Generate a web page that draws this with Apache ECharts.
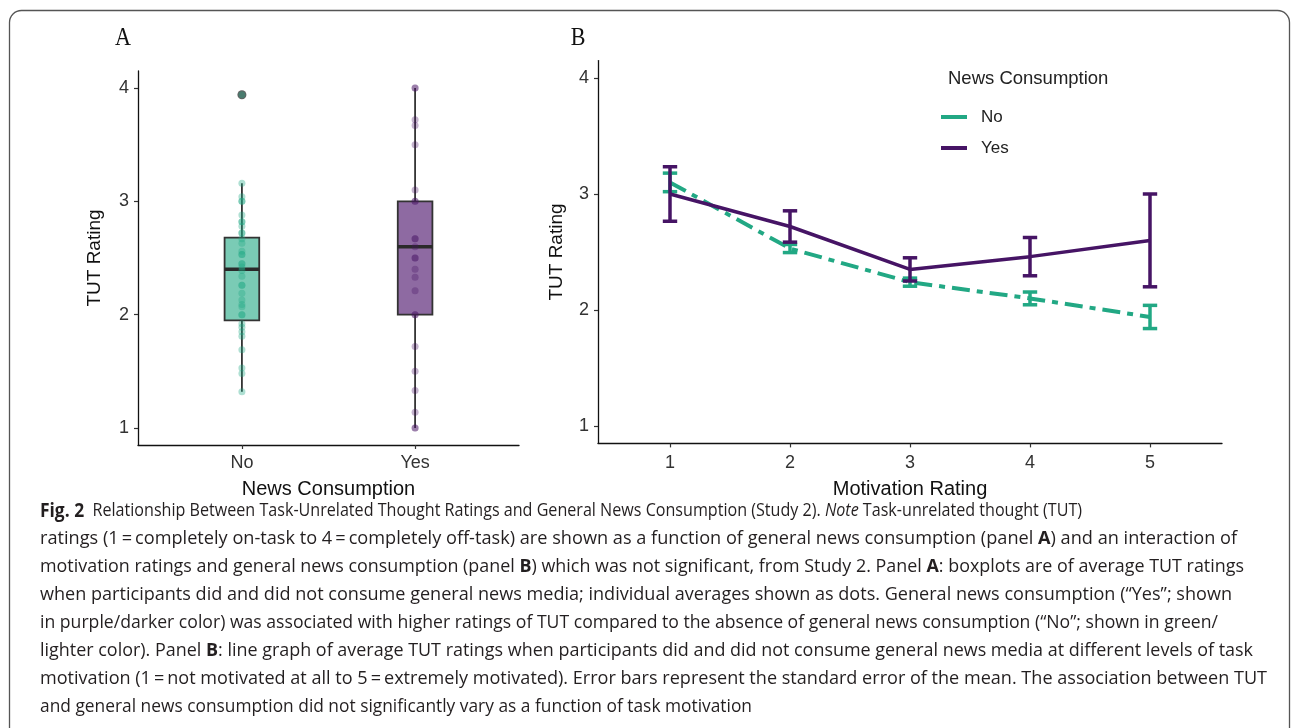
<!DOCTYPE html>
<html>
<head>
<meta charset="utf-8">
<script src="https://cdn.jsdelivr.net/npm/echarts@6/dist/echarts.min.js"></script>
<style>
html,body{margin:0;padding:0;background:#fff;}
#chart{width:1293px;height:728px;}
</style>
</head>
<body>
<div id="chart"></div>
<script>
// ---------- data ----------
const newsCategories = ['No', 'Yes'];
const boxNo = [1.32, 1.95, 2.40, 2.68, 3.16];   // min, q1, median, q3, max
const boxYes = [1.00, 2.00, 2.60, 3.00, 4.00];
const outliersNo = [3.94];
const pointsNo = [3.94, 3.16, 3.04, 3.00, 3.00, 2.88, 2.82, 2.82, 2.78, 2.72, 2.72, 2.67, 2.63, 2.56, 2.53, 2.53,
  2.45, 2.45, 2.42, 2.39, 2.34, 2.26, 2.26, 2.19, 2.13, 2.09, 2.07, 2.00, 2.00, 1.92, 1.89, 1.85, 1.81,
  1.69, 1.53, 1.48, 1.32];
const pointsYes = [4.00, 4.00, 3.72, 3.67, 3.50, 3.10, 3.00, 3.00, 2.67, 2.67, 2.60, 2.50, 2.50, 2.40,
  2.33, 2.21, 2.00, 2.00, 1.72, 1.50, 1.33, 1.14, 1.00, 1.00];
const motivationLevels = [1, 2, 3, 4, 5];
const meanNo = [3.10, 2.53, 2.24, 2.10, 1.94];
const seNo = [0.08, 0.035, 0.035, 0.055, 0.10];
const meanYes = [3.00, 2.72, 2.35, 2.46, 2.60];
const seYes = [0.235, 0.135, 0.10, 0.165, 0.40];
const yTicks = [1, 2, 3, 4];
const captionLines = [
  [['f', 'Fig. 2'], ['n', '  Relationship Between Task-Unrelated Thought Ratings and General News Consumption (Study 2). '], ['i', 'Note'], ['n', ' Task-unrelated thought (TUT)']],
  [['n', 'ratings (1\u2009=\u2009completely on-task to 4\u2009=\u2009completely off-task) are shown as a function of general news consumption (panel '], ['b', 'A'], ['n', ') and an interaction of']],
  [['n', 'motivation ratings and general news consumption (panel '], ['b', 'B'], ['n', ') which was not significant, from Study 2. Panel '], ['b', 'A'], ['n', ': boxplots are of average TUT ratings']],
  [['n', 'when participants did and did not consume general news media; individual averages shown as dots. General news consumption (\u201cYes\u201d; shown']],
  [['n', 'in purple/darker color) was associated with higher ratings of TUT compared to the absence of general news consumption (\u201cNo\u201d; shown in green/']],
  [['n', 'lighter color). Panel '], ['b', 'B'], ['n', ': line graph of average TUT ratings when participants did and did not consume general news media at different levels of task']],
  [['n', 'motivation (1\u2009=\u2009not motivated at all to 5\u2009=\u2009extremely motivated). Error bars represent the standard error of the mean. The association between TUT']],
  [['n', 'and general news consumption did not significantly vary as a function of task motivation']]
];
const captionRightEdges = [1082, 1237, 1244, 1232, 1218, 1253, 1267, 752];

// ---------- styles ----------
const GREEN = '#22a884';
const PURPLE = '#461465';
const FONT = 'Liberation Sans, Arial, sans-serif';
const CAP_FONT = 'Open Sans, Noto Sans, sans-serif';
const CAP_COLOR = '#231f20';

const chart = echarts.init(document.getElementById('chart'), null, {renderer: 'canvas'});

// caption measurement for fitting line widths
const mctx = document.createElement('canvas').getContext('2d');
const capSize = 18.5;
const segFont = {
  n: `normal ${capSize}px ${CAP_FONT}`,
  b: `bold ${capSize}px ${CAP_FONT}`,
  i: `italic ${capSize}px ${CAP_FONT}`,
  f: `bold 20px ${CAP_FONT}`
};
const richStyles = {
  n: {fontFamily: CAP_FONT, fontSize: capSize, fontWeight: 'normal', fill: CAP_COLOR},
  b: {fontFamily: CAP_FONT, fontSize: capSize, fontWeight: 'bold', fill: CAP_COLOR},
  i: {fontFamily: CAP_FONT, fontSize: capSize, fontStyle: 'italic', fill: CAP_COLOR},
  f: {fontFamily: CAP_FONT, fontSize: 20, fontWeight: 'bold', fill: CAP_COLOR}
};
const captionGraphics = captionLines.map((segs, idx) => {
  let total = 0;
  segs.forEach(s => { mctx.font = segFont[s[0]]; total += mctx.measureText(s[1]).width; });
  const target = captionRightEdges[idx] - 40;
  const sx = target / total;
  return {
    type: 'text', x: 40, y: 511 + idx * 28, scaleX: sx,
    style: {
      text: segs.map(s => `{${s[0]}|${s[1]}}`).join(''),
      verticalAlign: 'middle',
      fill: CAP_COLOR,
      rich: richStyles
    }
  };
});

const axisCommon = {
  axisLine: {show: true, lineStyle: {color: '#111', width: 1.3}},
  axisTick: {show: true, length: 4, lineStyle: {color: '#333', width: 1.2}},
  splitLine: {show: false},
  nameTextStyle: {fontSize: 20, color: '#111', fontFamily: FONT}
};

function boxRender(color) {
  return function (params, api) {
    const x = api.value(0);
    const mn = api.value(1), q1 = api.value(2), md = api.value(3), q3 = api.value(4), mx = api.value(5);
    const pMin = api.coord([x, mn]), pQ1 = api.coord([x, q1]), pMd = api.coord([x, md]);
    const pQ3 = api.coord([x, q3]), pMax = api.coord([x, mx]);
    const hw = api.coord([x + 0.1, md])[0] - pMd[0];
    const st = {stroke: '#333', lineWidth: 1.8};
    return {
      type: 'group', children: [
        {type: 'line', shape: {x1: pMin[0], y1: pMin[1], x2: pQ1[0], y2: pQ1[1]}, style: st},
        {type: 'line', shape: {x1: pQ3[0], y1: pQ3[1], x2: pMax[0], y2: pMax[1]}, style: st},
        {type: 'rect', shape: {x: pMd[0] - hw, y: pQ3[1], width: 2 * hw, height: pQ1[1] - pQ3[1]},
          style: {fill: color, stroke: '#333', lineWidth: 1.8}},
        {type: 'line', shape: {x1: pMd[0] - hw, y1: pMd[1], x2: pMd[0] + hw, y2: pMd[1]},
          style: {stroke: '#2a2a2a', lineWidth: 3.5}}
      ]
    };
  };
}

function errRender(color) {
  return function (params, api) {
    const x = api.value(0), lo = api.value(1), hi = api.value(2);
    const pLo = api.coord([x, lo]), pHi = api.coord([x, hi]);
    const hw = api.coord([x + 0.06, lo])[0] - pLo[0];
    const st = {stroke: color, lineWidth: 3.5};
    return {
      type: 'group', children: [
        {type: 'line', shape: {x1: pLo[0], y1: pLo[1], x2: pHi[0], y2: pHi[1]}, style: st},
        {type: 'line', shape: {x1: pLo[0] - hw, y1: pLo[1], x2: pLo[0] + hw, y2: pLo[1]}, style: st},
        {type: 'line', shape: {x1: pHi[0] - hw, y1: pHi[1], x2: pHi[0] + hw, y2: pHi[1]}, style: st}
      ]
    };
  };
}

const option = {
  animation: false,
  backgroundColor: '#fff',
  grid: [
    {left: 138, top: 71, width: 381, height: 374},
    {left: 598, top: 60.6, width: 624, height: 382.8}
  ],
  xAxis: [
    Object.assign({}, axisCommon, {
      gridIndex: 0, type: 'value', min: 0.4, max: 2.6,
      name: 'News Consumption', nameLocation: 'middle', nameGap: 34,
      axisTick: {show: true, length: 4, lineStyle: {color: '#333', width: 1.2}, customValues: [1, 2]},
      axisLabel: {customValues: [1, 2], formatter: v => newsCategories[Math.round(v) - 1],
        fontSize: 18, color: '#333', fontFamily: FONT, margin: 9}
    }),
    Object.assign({}, axisCommon, {
      gridIndex: 1, type: 'value', min: 0.4, max: 5.6,
      name: 'Motivation Rating', nameLocation: 'middle', nameGap: 36,
      axisTick: {show: true, length: 4, lineStyle: {color: '#333', width: 1.2}, customValues: motivationLevels},
      axisLabel: {customValues: motivationLevels, fontSize: 18, color: '#333', fontFamily: FONT, margin: 11}
    })
  ],
  yAxis: [
    Object.assign({}, axisCommon, {
      gridIndex: 0, type: 'value', min: 0.85, max: 4.15,
      name: 'TUT Rating', nameLocation: 'middle', nameGap: 34,
      nameTextStyle: {fontSize: 19, color: '#111', fontFamily: FONT},
      axisTick: {show: true, length: 4, lineStyle: {color: '#333', width: 1.2}, customValues: yTicks},
      axisLabel: {customValues: yTicks, fontSize: 18, color: '#333', fontFamily: FONT, margin: 9}
    }),
    Object.assign({}, axisCommon, {
      gridIndex: 1, type: 'value', min: 0.85, max: 4.15,
      name: 'TUT Rating', nameLocation: 'middle', nameGap: 32,
      nameTextStyle: {fontSize: 19, color: '#111', fontFamily: FONT},
      axisTick: {show: true, length: 4, lineStyle: {color: '#333', width: 1.2}, customValues: yTicks},
      axisLabel: {customValues: yTicks, fontSize: 18, color: '#333', fontFamily: FONT, margin: 9}
    })
  ],
  legend: {
    data: ['No', 'Yes'],
    orient: 'vertical', left: 941, top: 107.5, padding: 0,
    icon: 'rect', itemWidth: 26, itemHeight: 4, itemGap: 12,
    itemStyle: {borderWidth: 0},
    textStyle: {fontSize: 17, color: '#222', fontFamily: FONT, lineHeight: 19, padding: [0, 0, 0, 9]},
    selectedMode: false
  },
  graphic: [
    {type: 'rect', shape: {x: 9.5, y: 10.5, width: 1280, height: 735, r: 12},
      style: {fill: 'none', stroke: '#555', lineWidth: 1.3}, silent: true},
    {type: 'text', x: 123, y: 38, scaleX: 0.85,
      style: {text: 'A', fontFamily: 'Liberation Serif, serif', fontSize: 26, fill: '#111', align: 'center', verticalAlign: 'middle'}},
    {type: 'text', x: 578, y: 38, scaleX: 0.85,
      style: {text: 'B', fontFamily: 'Liberation Serif, serif', fontSize: 26, fill: '#111', align: 'center', verticalAlign: 'middle'}},
    {type: 'text', x: 948, y: 79,
      style: {text: 'News Consumption', fontFamily: FONT, fontSize: 18.5, fill: '#222', verticalAlign: 'middle'}}
  ].concat(captionGraphics),
  series: [
    {
      type: 'custom', xAxisIndex: 0, yAxisIndex: 0, renderItem: boxRender('#7acbb5'),
      data: [[1].concat(boxNo)], silent: true, z: 2
    },
    {
      type: 'custom', xAxisIndex: 0, yAxisIndex: 0, renderItem: boxRender('#8e6aa2'),
      data: [[2].concat(boxYes)], silent: true, z: 2
    },
    {
      type: 'scatter', xAxisIndex: 0, yAxisIndex: 0, symbolSize: 9,
      itemStyle: {color: '#3a3a3a'}, data: outliersNo.map(v => [1, v]), z: 3
    },
    {
      type: 'scatter', xAxisIndex: 0, yAxisIndex: 0, symbolSize: 7,
      itemStyle: {color: 'rgba(34,168,132,0.45)'}, data: pointsNo.map(v => [1, v]), z: 4
    },
    {
      type: 'scatter', xAxisIndex: 0, yAxisIndex: 0, symbolSize: 7,
      itemStyle: {color: 'rgba(70,20,101,0.4)'}, data: pointsYes.map(v => [2, v]), z: 4
    },
    {
      name: 'No', type: 'line', xAxisIndex: 1, yAxisIndex: 1, color: GREEN,
      symbol: 'none', lineStyle: {color: GREEN, width: 4, type: [18, 7, 6, 7]},
      data: motivationLevels.map((m, i) => [m, meanNo[i]]), z: 3
    },
    {
      type: 'custom', xAxisIndex: 1, yAxisIndex: 1, renderItem: errRender(GREEN),
      data: motivationLevels.map((m, i) => [m, meanNo[i] - seNo[i], meanNo[i] + seNo[i]]), z: 3, silent: true
    },
    {
      name: 'Yes', type: 'line', xAxisIndex: 1, yAxisIndex: 1, color: PURPLE,
      symbol: 'none', lineStyle: {color: PURPLE, width: 3.5},
      data: motivationLevels.map((m, i) => [m, meanYes[i]]), z: 5
    },
    {
      type: 'custom', xAxisIndex: 1, yAxisIndex: 1, renderItem: errRender(PURPLE),
      data: motivationLevels.map((m, i) => [m, meanYes[i] - seYes[i], meanYes[i] + seYes[i]]), z: 5, silent: true
    }
  ]
};
chart.setOption(option);
</script>
</body>
</html>
